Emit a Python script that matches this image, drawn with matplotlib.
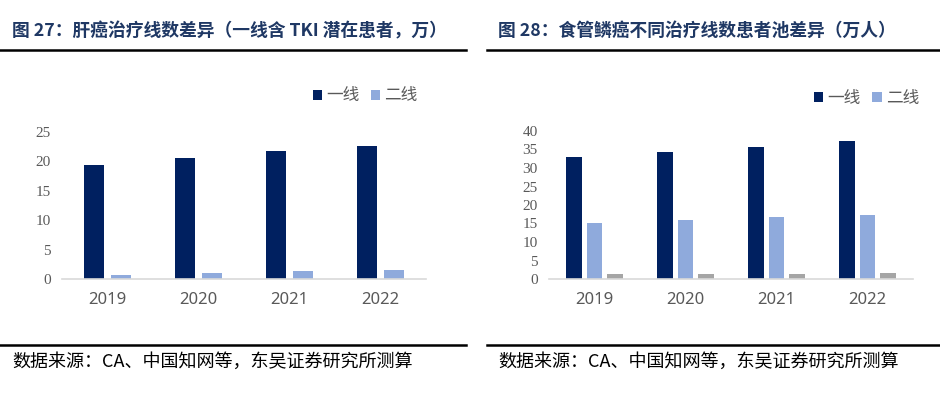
import matplotlib
matplotlib.use("Agg")
import matplotlib.pyplot as plt
import numpy as np
from matplotlib.lines import Line2D

plt.rcParams["font.family"] = ["Noto Sans CJK SC", "DejaVu Sans"]

years = ["2019", "2020", "2021", "2022"]

# 图 27: 肝癌
liver_first = [19.4, 20.6, 21.8, 22.6]
liver_second = [0.7, 1.0, 1.3, 1.5]

# 图 28: 食管鳞癌
eso_first = [32.9, 34.3, 35.8, 37.2]
eso_second = [15.2, 15.9, 16.7, 17.2]
eso_other = [1.3, 1.4, 1.4, 1.6]

title_left = "图 27：肝癌治疗线数差异（一线含 TKI 潜在患者，万）"
title_right = "图 28：食管鳞癌不同治疗线数患者池差异（万人）"
source = "数据来源：CA、中国知网等，东吴证券研究所测算"

NAVY = "#002060"
LIGHT = "#8FAADC"
GREY = "#A5A5A5"
TXT = "#595959"
TITLE_C = "#1F3864"

W, H = 940, 395
fig = plt.figure(figsize=(W / 100, H / 100), dpi=100)


def fx(px):
    return px / W


def fy(py):
    return 1 - py / H


def style_axes(ax, ymax, step):
    ax.set_ylim(0, ymax)
    ax.set_xlim(-0.5, 3.5)
    ax.set_yticks(np.arange(0, ymax + 1, step))
    for s in ["top", "right", "left"]:
        ax.spines[s].set_visible(False)
    ax.spines["bottom"].set_color("#D9D9D9")
    ax.spines["bottom"].set_linewidth(1.2)
    ax.tick_params(length=0)
    ax.tick_params(axis="y", pad=8)
    ax.tick_params(axis="x", pad=9)
    for lab in ax.get_yticklabels():
        lab.set_fontfamily("Liberation Serif")
        lab.set_fontsize(11)
        lab.set_color(TXT)
    for lab in ax.get_xticklabels():
        lab.set_fontfamily("Noto Sans")
        lab.set_fontsize(12)
        lab.set_color(TXT)


x = np.arange(len(years))
leg_kw = dict(loc="center right", ncol=2, frameon=False,
              handlelength=0.55, handleheight=0.55, handletextpad=0.25,
              columnspacing=0.7, labelcolor=TXT, borderaxespad=0,
              prop={"family": ["Noto Sans CJK SC"], "size": 12})

# left chart
ax1 = fig.add_axes([fx(62), fy(279), fx(426 - 62), (279 - 132) / H])
bw = 0.23
ax1.bar(x - 0.148, liver_first, bw, color=NAVY, label="一线")
ax1.bar(x + 0.148, liver_second, bw, color=LIGHT, label="二线")
ax1.set_xticks(x, years)
style_axes(ax1, 25, 5)
ax1.legend(bbox_to_anchor=(0.995, 1.245), **leg_kw)

# right chart
ax2 = fig.add_axes([fx(549), fy(279), fx(913 - 549), (279 - 131) / H])
bw2 = 0.175
ax2.bar(x - 0.225, eso_first, bw2, color=NAVY, label="一线")
ax2.bar(x, eso_second, bw2, color=LIGHT, label="二线")
ax2.bar(x + 0.225, eso_other, bw2, color=GREY)
ax2.set_xticks(x, years)
style_axes(ax2, 40, 5)
ax2.legend(bbox_to_anchor=(1.035, 1.22), **leg_kw)

# titles
fig.text(fx(12), fy(31), title_left, fontsize=12.8, fontweight="bold", color=TITLE_C,
         va="center", ha="left")
fig.text(fx(498), fy(31), title_right, fontsize=12.8, fontweight="bold", color=TITLE_C,
         va="center", ha="left")

# rules
for x0, x1 in [(0, 466), (487, 940)]:
    fig.add_artist(Line2D([fx(x0), fx(x1)], [fy(50), fy(50)], color="black", lw=1.8))
    fig.add_artist(Line2D([fx(x0), fx(x1)], [fy(345), fy(345)], color="black", lw=1.8))

# sources
fig.text(fx(12), fy(362), source, fontsize=13, color="black", va="center", ha="left")
fig.text(fx(498), fy(362), source, fontsize=13, color="black", va="center", ha="left")

fig.savefig("out.png", dpi=100)
